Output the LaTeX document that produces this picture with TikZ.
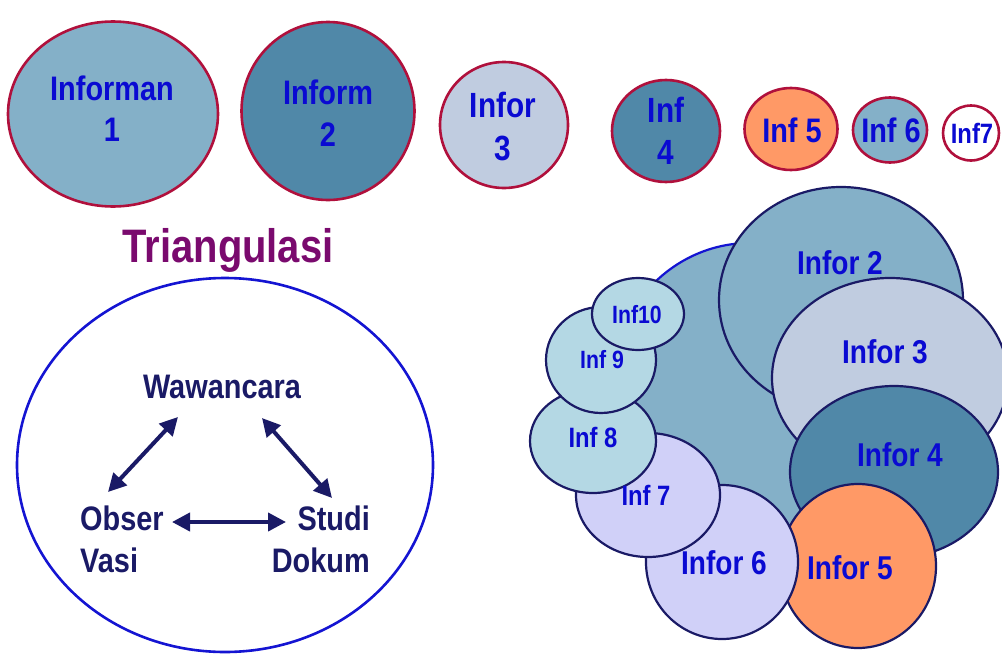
\documentclass[tikz,border=0pt]{standalone}
\usepackage{fontspec}
\setmainfont[FakeStretch=0.85]{Liberation Sans}
\usetikzlibrary{shapes.geometric,arrows.meta,calc}
\definecolor{crim}{RGB}{176,16,60}
\definecolor{navy}{RGB}{26,26,102}
\definecolor{lbl}{RGB}{10,10,210}
\definecolor{steel}{RGB}{132,176,200}
\definecolor{deep}{RGB}{80,136,168}
\definecolor{pale}{RGB}{192,204,224}
\definecolor{peach}{RGB}{255,153,102}
\definecolor{lav}{RGB}{208,208,248}
\definecolor{ice}{RGB}{180,216,228}
\definecolor{plum}{RGB}{122,10,110}
\definecolor{ring}{RGB}{20,20,210}
\tikzset{
  topel/.style={ellipse,draw=crim,line width=2.6pt,inner sep=0pt},
  clel/.style={ellipse,draw=navy,line width=2.2pt,inner sep=0pt},
  lab/.style={text=lbl,font=\bfseries\fontsize{#1}{#1}\selectfont,inner sep=0pt,align=center},
  tri/.style={text=navy,font=\bfseries\fontsize{34}{42}\selectfont,inner sep=0pt},
  dbl/.style={draw=navy,line width=4pt,{Triangle[length=18pt,width=18pt]}-{Triangle[length=18pt,width=18pt]}}
}
\begin{document}
\begin{tikzpicture}[x=1pt,y=-1pt]
\useasboundingbox (0,0) rectangle (1002,667);

% row of informant circles
\node[topel,fill=steel,minimum width=210pt,minimum height=185pt] (i1) at (113,114) {};
\node[topel,fill=deep,minimum width=173pt,minimum height=178pt] (i2) at (328,111) {};
\node[topel,fill=pale,minimum width=128pt,minimum height=126pt] (i3) at (504,125) {};
\node[topel,fill=deep,minimum width=108pt,minimum height=102pt] (i4) at (666,131) {};
\node[topel,fill=peach,minimum width=93pt,minimum height=82pt] (i5) at (791,129) {};
\node[topel,fill=steel,minimum width=74pt,minimum height=65pt] (i6) at (890,130) {};
\node[topel,fill=white,minimum width=56pt,minimum height=55pt] (i7) at (971,133) {};

\node[lab=34] (t1a) at (112,88) {Informan};
\node[lab=34] (t1b) at (112,130) {1};
\node[lab=34] (t2a) at (328,92) {Inform};
\node[lab=34] (t2b) at (328,135) {2};
\node[lab=35] (t3a) at (503,105) {Infor};
\node[lab=35] (t3b) at (503,148) {3};
\node[lab=35] (t4a) at (666,110) {Inf};
\node[lab=35] (t4b) at (666,152) {4};
\node[lab=34] (t5) at (792,130) {Inf 5};
\node[lab=34] (t6) at (891,130) {Inf 6};
\node[lab=28] (t7) at (972,133) {Inf7};

% triangulation
\node[text=plum,font=\bfseries\fontsize{47}{56}\selectfont,inner sep=0pt] (title) at (228,250) {Triangulasi};
\node[ellipse,draw=ring,line width=2.6pt,minimum width=416pt,minimum height=374pt] (big) at (225,465) {};

\node[tri] (w) at (222,387) {Wawancara};
\node[tri,align=left,anchor=west] (o) at (80,539) {Obser\\Vasi};
\node[tri,align=right,anchor=east] (s) at (370,539) {Studi\\Dokum};

\draw[dbl] ([shift={(-44,30)}]w.center) -- ([shift={(28,-47)}]o.west);
\draw[dbl] ([shift={(40,31)}]w.center) -- ([shift={(-38,-41)}]s.east);
\draw[dbl] ([shift={(92,-17)}]o.west) -- ([shift={(-84,-17)}]s.east);

% informant cluster
\node[ellipse,draw=ring,line width=2.2pt,fill=steel,minimum width=280pt,minimum height=294pt] (bg) at (750,390) {};
\node[clel,fill=steel,minimum width=244pt,minimum height=226pt] (c2) at (841,300) {};
\node[clel,fill=pale,minimum width=236pt,minimum height=200pt] (c3) at (890,378) {};
\node[clel,fill=deep,minimum width=208pt,minimum height=172pt] (c4) at (894,472) {};
\node[clel,fill=peach,minimum width=156pt,minimum height=164pt] (c5) at (858,566) {};
\node[clel,fill=lav,minimum width=152pt,minimum height=154pt] (c6) at (722,562) {};
\node[clel,fill=lav,minimum width=144pt,minimum height=124pt] (c7) at (648,495) {};
\node[clel,fill=ice,minimum width=126pt,minimum height=104pt] (c8) at (593,441) {};
\node[clel,fill=ice,minimum width=110pt,minimum height=106pt] (c9) at (601,360) {};
\node[clel,fill=ice,minimum width=92pt,minimum height=72pt] (c10) at (638,314) {};

\node[lab=33] (u2) at (840,263) {Infor 2};
\node[lab=33] (u3) at (885,352) {Infor 3};
\node[lab=33] (u4) at (900,455) {Infor 4};
\node[lab=33] (u5) at (850,568) {Infor 5};
\node[lab=33] (u6) at (724,563) {Infor 6};
\node[lab=28] (u7) at (646,495) {Inf 7};
\node[lab=28] (u8) at (593,437) {Inf 8};
\node[lab=25] (u9) at (602,360) {Inf 9};
\node[lab=25] (u10) at (637,315) {Inf10};
\end{tikzpicture}
\end{document}
